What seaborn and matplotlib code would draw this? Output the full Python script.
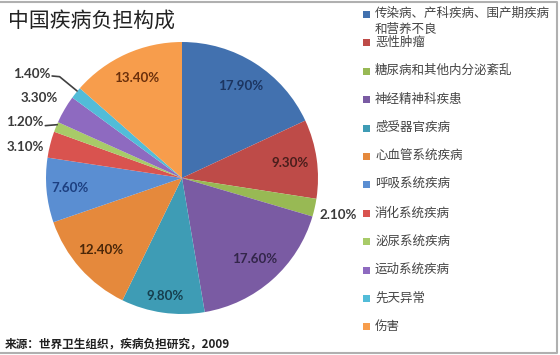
import numpy as np
import matplotlib
matplotlib.use("Agg")
import matplotlib.pyplot as plt
from matplotlib.patches import Rectangle
import seaborn as sns

# ---------------- data ----------------
categories = [
    "传染病、产科疾病、围产期疾病\n和营养不良",
    "恶性肿瘤",
    "糖尿病和其他内分泌紊乱",
    "神经精神科疾患",
    "感受器官疾病",
    "心血管系统疾病",
    "呼吸系统疾病",
    "消化系统疾病",
    "泌尿系统疾病",
    "运动系统疾病",
    "先天异常",
    "伤害",
]
shares = [17.90, 9.30, 2.10, 17.60, 9.80, 12.40, 7.60, 3.10, 1.20, 3.30, 1.40, 13.40]
title = "中国疾病负担构成"
source = "来源：世界卫生组织，疾病负担研究，2009"

colors = ["#4271AF", "#BE4B48", "#98B954", "#7A5BA3", "#3E9CB5", "#E5893C",
          "#5A8ED2", "#D9534F", "#A8CB68", "#8E6AC0", "#52BCD8", "#F79D4C"]
text_colors = ["#1C3561", "#4A1E1C", "#333333", "#33264A", "#163F4E", "#4A2709",
               "#1D3F80", "#333333", "#333333", "#333333", "#333333", "#6B300C"]

sns.set_theme(style="white")
plt.rcParams["font.family"] = ["Noto Sans CJK SC", "DejaVu Sans"]

W, H = 560, 355
fig = plt.figure(figsize=(W / 100, H / 100), dpi=100)
fig.patch.set_facecolor("white")

cx, cy, R = 182, 178, 136
ax = fig.add_axes([(cx - R) / W, (H - cy - R) / H, 2 * R / W, 2 * R / H])
ax.axis("off")

wedges, _ = ax.pie(shares, colors=colors, startangle=90, counterclock=False,
                   radius=1, wedgeprops=dict(linewidth=0))
ax.set_xlim(-1, 1)
ax.set_ylim(-1, 1)
ax.set_aspect("equal")

# label placement (style, not data): inside radius or outside text position
inside_r = {0: 0.80, 1: 0.80, 3: 0.80, 4: 0.88, 5: 0.80, 6: 0.83, 11: 0.81}
outside_pos = {2: (1.01, -0.27, "left"), 7: (-1.015, 0.228, "right"),
               8: (-1.02, 0.41, "right"), 9: (-0.91, 0.59, "right"),
               10: (-0.97, 0.765, "right")}
lab_font = dict(family=["Lato", "DejaVu Sans"], fontsize=9.6, fontweight="bold")
for i, w in enumerate(wedges):
    mid = np.deg2rad((w.theta1 + w.theta2) / 2)
    label = f"{shares[i]:.2f}%"
    if i in inside_r:
        r = inside_r[i]
        ax.text(r * np.cos(mid), r * np.sin(mid), label, ha="center", va="center",
                color=text_colors[i], **lab_font)
    else:
        tx, ty, ha = outside_pos[i]
        ax.text(tx, ty, label, ha=ha, va="center", color="#3A3A3A", **lab_font)


def edge_point(w, r=1.0):
    m = np.deg2rad((w.theta1 + w.theta2) / 2)
    return r * np.cos(m), r * np.sin(m)


# leader lines
ex, ey = edge_point(wedges[8], 0.99)
ax.plot([-1.005, ex], [0.385, ey + 0.02], color="#404040", lw=1.2, clip_on=False)
ex, ey = edge_point(wedges[10], 0.99)
ax.plot([-0.955, -0.90, ex], [0.75, 0.745, ey + 0.02], color="#404040", lw=1.2, clip_on=False)

# title
fig.text(8 / W, 1 - 21 / H, title, ha="left", va="center", fontsize=15, color="#222222")

# legend (manual, to reproduce reference layout)
y0, dy = 14.5, 28.4
for i, (cat, col) in enumerate(zip(categories, colors)):
    yc = y0 + dy * i
    fig.patches.append(Rectangle((363 / W, 1 - (yc + 3.5) / H), 7 / W, 7 / H,
                                 transform=fig.transFigure, facecolor=col,
                                 edgecolor="none"))
    top = yc - 7 - (1 if "\n" in cat else 0)
    fig.text(375 / W, 1 - top / H, cat, ha="left", va="top", fontsize=9,
             color="#444444", linespacing=1.3)

# source
fig.text(5 / W, 1 - 344 / H, source, ha="left", va="center", fontsize=8.4,
         fontweight="bold", color="#222222")

# outer frame (top, right, bottom)
fig.add_artist(plt.Line2D([0, 557 / W, 557 / W, 0], [1 - 1.5 / H, 1 - 1.5 / H, 1 - 352.5 / H, 1 - 352.5 / H],
                          transform=fig.transFigure, color="#B0B0B0", lw=1.5))

fig.savefig("out.png", dpi=100, facecolor="white")
